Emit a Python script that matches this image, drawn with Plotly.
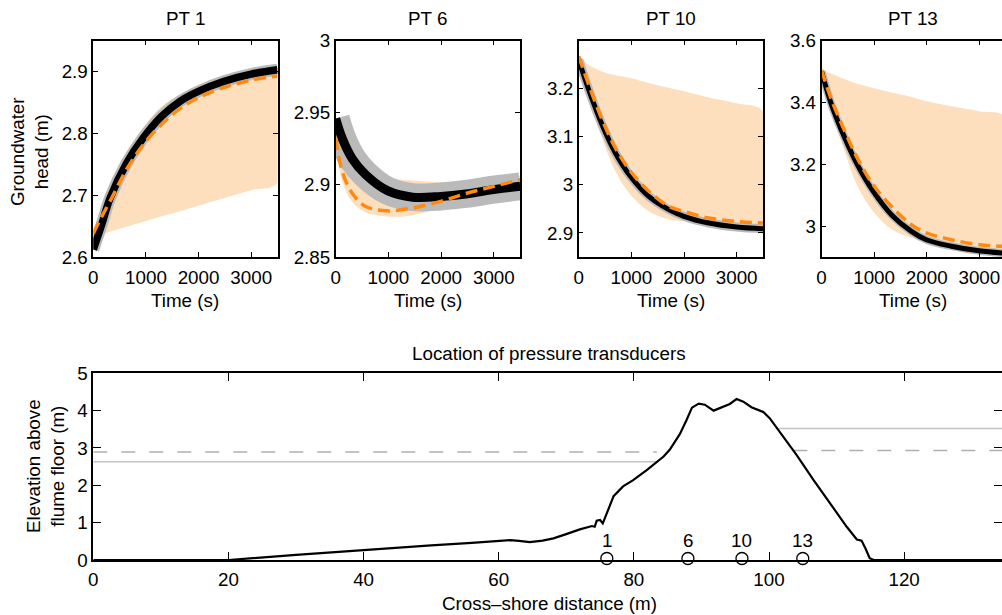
import plotly.graph_objects as go

# ---------------- data ----------------
PANEL_TITLES = ["PT 1", "PT 6", "PT 10", "PT 13"]

T_PT1 = [0, 158, 317, 634, 951, 1300, 1648, 1996, 2471, 2997, 3500]
PT1_MEASURED = [2.612, 2.652, 2.695, 2.752, 2.793, 2.828, 2.852, 2.868, 2.884, 2.896, 2.903]
PT1_MODEL = [2.638, 2.665, 2.690, 2.742, 2.782, 2.815, 2.840, 2.858, 2.874, 2.886, 2.893]
PT1_RANGE_UP = [2.640, 2.672, 2.712, 2.770, 2.810, 2.844, 2.862, 2.872, 2.882, 2.888, 2.892]
PT1_RANGE_LO = [2.634, 2.637, 2.641, 2.649, 2.657, 2.666, 2.674, 2.683, 2.695, 2.708, 2.720]

T_PT6 = [0, 127, 317, 570, 982, 1458, 1996, 2471, 2997, 3500]
PT6_MEASURED = [2.946, 2.932, 2.918, 2.907, 2.896, 2.8915, 2.892, 2.8937, 2.8967, 2.899]
PT6_MODEL = [2.9325, 2.909, 2.894, 2.885, 2.882, 2.884, 2.8886, 2.894, 2.899, 2.9036]
PT6_RANGE_UP = [2.935, 2.924, 2.915, 2.909, 2.905, 2.903, 2.902, 2.902, 2.904, 2.906]
PT6_RANGE_LO = [2.930, 2.902, 2.888, 2.881, 2.878, 2.879, 2.884, 2.890, 2.895, 2.900]

T_PT10 = [0, 190, 444, 697, 982, 1331, 1711, 1996, 2471, 2997, 3500]
PT10_MEASURED = [3.2605, 3.198, 3.125, 3.0664, 3.018, 2.976, 2.9485, 2.9347, 2.9207, 2.9124, 2.9089]
PT10_MODEL = [3.2675, 3.2085, 3.1357, 3.0768, 3.0283, 2.9867, 2.9555, 2.945, 2.931, 2.924, 2.9207]
PT10_RANGE_UP = [3.2675, 3.250, 3.236, 3.228, 3.2224, 3.212, 3.202, 3.1947, 3.182, 3.170, 3.153]
PT10_RANGE_LO = [3.262, 3.184, 3.097, 3.028, 2.980, 2.945, 2.928, 2.925, 2.922, 2.920, 2.920]

T_PT13 = [0, 190, 443, 696, 980, 1328, 1708, 1992, 2467, 2992, 3500]
PT13_MEASURED = [3.501, 3.393, 3.285, 3.194, 3.113, 3.037, 2.983, 2.956, 2.935, 2.920, 2.912]
PT13_MODEL = [3.505, 3.409, 3.307, 3.215, 3.134, 3.064, 3.005, 2.978, 2.956, 2.940, 2.934]
PT13_RANGE_UP = [3.505, 3.493, 3.475, 3.460, 3.447, 3.432, 3.418, 3.404, 3.388, 3.372, 3.352]
PT13_RANGE_LO = [3.500, 3.380, 3.240, 3.125, 3.048, 2.990, 2.962, 2.950, 2.940, 2.935, 2.932]

TIME_TICKS = [0, 1000, 2000, 3000]
PT1_YTICKS = [2.6, 2.7, 2.8, 2.9]
PT6_YTICKS = [2.85, 2.9, 2.95, 3.0]
PT10_YTICKS = [2.9, 3.0, 3.1, 3.2]
PT13_YTICKS = [3.0, 3.2, 3.4, 3.6]

# beach profile
X_PROFILE = [0, 20, 30, 40, 50, 56, 60.2, 61.7, 63.0, 64.6, 66.5, 68.1, 70.1, 72.0, 73.8,
             74.2, 74.5, 75.0, 75.4, 76.0, 77.0, 78.4, 79.9, 81.9, 84.4, 85.3, 86.8, 87.8,
             88.6, 89.6, 90.5, 91.8, 93.2, 94.2, 95.2, 96.2, 97.4, 99.2, 100.1, 101.6,
             104.1, 106.6, 109.0, 111.5, 113.0, 113.7, 114.3, 114.9, 115.5, 140]
Z_PROFILE = [0, 0, 0.135, 0.268, 0.39, 0.46, 0.517, 0.53, 0.51, 0.48, 0.52, 0.58, 0.70, 0.82,
             0.91, 0.89, 1.05, 1.07, 0.98, 1.27, 1.71, 1.97, 2.14, 2.41, 2.77, 2.95, 3.37,
             3.75, 4.08, 4.19, 4.16, 4.00, 4.11, 4.18, 4.31, 4.24, 4.09, 3.96, 3.80, 3.44,
             2.81, 2.14, 1.52, 0.89, 0.55, 0.52, 0.30, 0.05, 0, 0]

# water levels (seaward / landward), solid and dashed
SEA_SOLID_X = [0, 83.6]
SEA_SOLID_Z = [2.63, 2.63]
SEA_DASH_X = [0, 83.4]
SEA_DASH_Z = [2.89, 2.89]
LAND_SOLID_X = [101.5, 140]
LAND_SOLID_Z = [3.52, 3.52]
LAND_DASH_X = [103.6, 140]
LAND_DASH_Z = [2.93, 2.93]

PT_LABELS = ["1", "6", "10", "13"]
PT_X = [76, 88, 96, 105]
PT_Z = [0.04, 0.04, 0.04, 0.04]
PT_LABEL_Z = [0.52, 0.52, 0.52, 0.52]

PROFILE_XTICKS = [0, 20, 40, 60, 80, 100, 120]
PROFILE_YTICKS = [0, 1, 2, 3, 4, 5]

# ---------------- layout helpers ----------------
W, H = 1002, 615
FONT = "Liberation Sans, Arial, sans-serif"
FS = 18.8


def px(x):
    return x / W


def py(y):
    return 1 - y / H


ORANGE_BAND = "rgb(253,223,190)"
ORANGE_LINE = "rgb(255,138,15)"
GRAY = "rgb(186,186,186)"

panels = [
    dict(t=T_PT1, meas=PT1_MEASURED, model=PT1_MODEL, up=PT1_RANGE_UP, lo=PT1_RANGE_LO,
         xr=[0, 3500], yr=[2.6, 2.95], yt=PT1_YTICKS, dom=(93.3, 277.5), bw=7.5, gw=12, right=True),
    dict(t=T_PT6, meas=PT6_MEASURED, model=PT6_MODEL, up=PT6_RANGE_UP, lo=PT6_RANGE_LO,
         xr=[0, 3500], yr=[2.85, 3.0], yt=PT6_YTICKS, dom=(335.7, 520.2), bw=9, gw=28, right=True),
    dict(t=T_PT10, meas=PT10_MEASURED, model=PT10_MODEL, up=PT10_RANGE_UP, lo=PT10_RANGE_LO,
         xr=[0, 3500], yr=[2.85, 3.3], yt=PT10_YTICKS, dom=(578.7, 763.0), bw=5, gw=9, right=True),
    dict(t=T_PT13, meas=PT13_MEASURED, model=PT13_MODEL, up=PT13_RANGE_UP, lo=PT13_RANGE_LO,
         xr=[0, 3430], yr=[2.9, 3.6], yt=PT13_YTICKS, dom=(821.5, 1002), bw=5, gw=8, right=False),
]

TOP_Y = (40.7, 257.0)

fig = go.Figure()

axis_common = dict(
    showline=True, linecolor="black", linewidth=1.5, ticks="inside", tickcolor="black",
    tickwidth=1.2, showgrid=False, zeroline=False, automargin=False,
    tickfont=dict(family=FONT, size=FS, color="black"),
)

annotations = []

for i, p in enumerate(panels):
    n = i + 1
    xa = "x" if n == 1 else f"x{n}"
    ya = "y" if n == 1 else f"y{n}"
    # model range band
    fig.add_trace(go.Scatter(
        x=p["t"] + p["t"][::-1], y=p["up"] + p["lo"][::-1], fill="toself",
        fillcolor=ORANGE_BAND, line=dict(width=0, shape="spline"), mode="lines",
        hoverinfo="skip", showlegend=False, xaxis=xa, yaxis=ya))
    # measurement noise envelope
    fig.add_trace(go.Scatter(
        x=p["t"], y=p["meas"], mode="lines", line=dict(color=GRAY, width=p["gw"], shape="spline"),
        showlegend=False, xaxis=xa, yaxis=ya))
    # measured
    fig.add_trace(go.Scatter(
        x=p["t"], y=p["meas"], mode="lines", line=dict(color="black", width=p["bw"], shape="spline"),
        showlegend=False, xaxis=xa, yaxis=ya))
    # model
    fig.add_trace(go.Scatter(
        x=p["t"], y=p["model"], mode="lines",
        line=dict(color=ORANGE_LINE, width=3.5, dash="12px,6px", shape="spline"),
        showlegend=False, xaxis=xa, yaxis=ya))

    xkey = "xaxis" if n == 1 else f"xaxis{n}"
    ykey = "yaxis" if n == 1 else f"yaxis{n}"
    fig.layout[xkey] = dict(
        axis_common, domain=[px(p["dom"][0]), px(p["dom"][1])], range=p["xr"],
        tickvals=TIME_TICKS, ticklen=5, mirror="ticks", anchor=ya, ticklabelstandoff=3)
    fig.layout[ykey] = dict(
        axis_common, domain=[py(TOP_Y[1]), py(TOP_Y[0])], range=p["yr"],
        tickvals=p["yt"], ticklen=5, mirror="ticks" if p["right"] else False, anchor=xa)

    cx = (p["dom"][0] + p["dom"][1]) / 2 if n < 4 else 913
    annotations.append(dict(text=PANEL_TITLES[i], x=px(cx), y=py(18), xref="paper", yref="paper",
                            showarrow=False, font=dict(family=FONT, size=FS, color="black"),
                            xanchor="center", yanchor="middle"))
    annotations.append(dict(text="Time (s)", x=px(cx), y=py(300), xref="paper", yref="paper",
                            showarrow=False, font=dict(family=FONT, size=FS, color="black"),
                            xanchor="center", yanchor="middle"))

annotations.append(dict(text="Groundwater<br>head (m)", x=px(29), y=py(152), xref="paper",
                        yref="paper", showarrow=False, textangle=-90,
                        font=dict(family=FONT, size=FS, color="black"),
                        xanchor="center", yanchor="middle"))

# ---------------- bottom: profile ----------------
fig.add_trace(go.Scatter(x=SEA_SOLID_X, y=SEA_SOLID_Z, mode="lines",
                         line=dict(color="rgb(195,195,195)", width=1.5),
                         showlegend=False, xaxis="x5", yaxis="y5"))
fig.add_trace(go.Scatter(x=LAND_SOLID_X, y=LAND_SOLID_Z, mode="lines",
                         line=dict(color="rgb(195,195,195)", width=1.5),
                         showlegend=False, xaxis="x5", yaxis="y5"))
fig.add_trace(go.Scatter(x=SEA_DASH_X, y=SEA_DASH_Z, mode="lines",
                         line=dict(color="rgb(175,175,175)", width=1.5, dash="14px,14px"),
                         showlegend=False, xaxis="x5", yaxis="y5"))
fig.add_trace(go.Scatter(x=LAND_DASH_X, y=LAND_DASH_Z, mode="lines",
                         line=dict(color="rgb(175,175,175)", width=1.5, dash="14px,14px"),
                         showlegend=False, xaxis="x5", yaxis="y5"))
fig.add_trace(go.Scatter(x=X_PROFILE, y=Z_PROFILE, mode="lines",
                         line=dict(color="black", width=2.2),
                         showlegend=False, xaxis="x5", yaxis="y5"))
fig.add_trace(go.Scatter(x=PT_X, y=PT_Z, mode="markers",
                         marker=dict(symbol="circle-open", size=12, color="black",
                                     line=dict(width=1.3, color="black")),
                         showlegend=False, xaxis="x5", yaxis="y5", cliponaxis=False))

for lab, xv, zv in zip(PT_LABELS, PT_X, PT_LABEL_Z):
    annotations.append(dict(text=lab, x=xv, y=zv, xref="x5", yref="y5", showarrow=False,
                            font=dict(family=FONT, size=FS, color="black"),
                            xanchor="center", yanchor="middle"))

BOT_X = (93.3, 1002)
BOT_Y = (373.3, 560.0)
X_MAX = (BOT_X[1] - BOT_X[0]) / 6.757

fig.layout["xaxis5"] = dict(axis_common, domain=[px(BOT_X[0]), px(BOT_X[1])], range=[0, X_MAX],
                            tickvals=PROFILE_XTICKS, ticklen=8, mirror="ticks", anchor="y5",
                            ticklabelstandoff=2)
fig.layout["yaxis5"] = dict(axis_common, domain=[py(BOT_Y[1]), py(BOT_Y[0])], range=[0, 5],
                            tickvals=PROFILE_YTICKS, ticklen=8, mirror=False, anchor="x5")
fig.layout["yaxis6"] = dict(overlaying="y5", side="right", range=[0, 5], tickvals=PROFILE_YTICKS,
                            ticks="inside", ticklen=8, tickwidth=1.2, tickcolor="black",
                            showticklabels=False, showline=False, showgrid=False, zeroline=False,
                            automargin=False, anchor="x5")
fig.add_trace(go.Scatter(x=[None], y=[None], xaxis="x5", yaxis="y6", showlegend=False,
                         hoverinfo="skip"))

annotations.append(dict(text="Location of pressure transducers", x=px(549), y=py(353),
                        xref="paper", yref="paper", showarrow=False,
                        font=dict(family=FONT, size=FS, color="black"),
                        xanchor="center", yanchor="middle"))
annotations.append(dict(text="Cross\u2013shore distance (m)", x=px(549), y=py(603),
                        xref="paper", yref="paper", showarrow=False,
                        font=dict(family=FONT, size=FS, color="black"),
                        xanchor="center", yanchor="middle"))
annotations.append(dict(text="Elevation above<br>flume floor (m)", x=px(45), y=py(466),
                        xref="paper", yref="paper", showarrow=False, textangle=-90,
                        font=dict(family=FONT, size=FS, color="black"),
                        xanchor="center", yanchor="middle"))

fig.update_layout(
    template="none",
    width=W, height=H, autosize=False,
    margin=dict(l=0, r=0, t=0, b=0, pad=0),
    paper_bgcolor="white", plot_bgcolor="white",
    annotations=annotations, showlegend=False,
    font=dict(family=FONT, size=FS, color="black"),
)

fig.write_html("out.html")
